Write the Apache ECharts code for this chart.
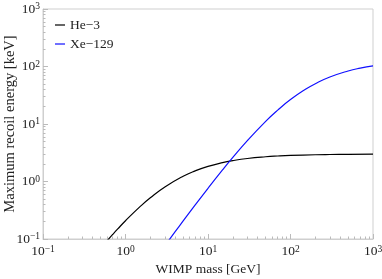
<!DOCTYPE html>
<html><head><meta charset="utf-8">
<script src="https://cdn.jsdelivr.net/npm/echarts@6/dist/echarts.min.js"></script>
<style>html,body{margin:0;padding:0;background:#fff}#c{width:382px;height:279px}</style>
</head><body><div id="c"></div>
<script>
// WIMP mass [GeV]
var heMass = [0.6, 0.7, 0.8, 1, 1.5, 2, 3, 5, 7, 10, 15, 20, 30, 50, 70, 100, 200, 300, 500, 1000];
// Maximum recoil energy [keV], He-3
var heEnergy = [0.0935, 0.120, 0.148, 0.208, 0.365, 0.521, 0.803, 1.234, 1.531, 1.832, 2.132, 2.310, 2.511, 2.692, 2.775, 2.840, 2.919, 2.946, 2.968, 2.985];
var xeMass = [3, 4, 5, 7, 10, 15, 20, 30, 50, 70, 100, 150, 200, 300, 500, 700, 1000];
// Maximum recoil energy [keV], Xe-129
var xeEnergy = [0.0765, 0.1339, 0.2058, 0.3908, 0.761, 1.588, 2.625, 5.146, 11.13, 17.46, 26.58, 39.70, 50.25, 65.63, 83.66, 93.75, 102.5];
var seriesNames = ['He\u22123', 'Xe\u2212129'];
var minorX = [0.2,0.3,0.4,0.5,0.6,0.7,0.8,0.9,2,3,4,5,6,7,8,9,20,30,40,50,60,70,80,90,200,300,400,500,600,700,800,900];
var minorY = minorX.slice();

var font = '"Liberation Serif", "Times New Roman", serif';
function fmt(v){
  var e = Math.round(Math.log10(v));
  var s = e < 0 ? '\u2212' + (-e) : '' + e;
  return '{b|10}{s|' + s + '}';
}
var rich = {
  b: {fontFamily: font, fontSize: 13.5, color: '#222', lineHeight: 15},
  s: {fontFamily: font, fontSize: 9.5, color: '#222', verticalAlign: 'top', lineHeight: 15, padding: [0,0,6,0]}
};
var gray = '#cfcfcf';
var chart = echarts.init(document.getElementById('c'));
chart.setOption({
  animation: false,
  grid: {left: 43, right: 9, top: 9, bottom: 40, show: true, borderColor: gray, borderWidth: 1,
         containLabel: false, outerBoundsMode: 'none'},
  legend: {
    data: seriesNames, left: 50, top: 13, orient: 'vertical', itemGap: 5,
    icon: 'rect', itemWidth: 10, itemHeight: 1.2,
    textStyle: {fontFamily: font, fontSize: 13.5, color: '#222'}
  },
  xAxis: [{
    type: 'log', min: 0.1, max: 1000, logBase: 10,
    name: 'WIMP mass [GeV]', nameLocation: 'middle', nameGap: 23, nameMoveOverlap: false,
    nameTextStyle: {fontFamily: font, fontSize: 13.5, color: '#222'},
    axisLine: {lineStyle: {color: gray}},
    axisTick: {inside: true, length: 5, lineStyle: {color: '#bbb'}},
    axisLabel: {formatter: fmt, rich: rich, margin: 5},
    splitLine: {show: false}
  }, {
    type: 'log', min: 0.1, max: 1000, position: 'bottom',
    axisLine: {show: false}, axisLabel: {show: false}, splitLine: {show: false},
    axisTick: {inside: true, length: 2.5, customValues: minorX, lineStyle: {color: '#bbb'}}
  }],
  yAxis: [{
    type: 'log', min: 0.1, max: 1000, logBase: 10,
    name: 'Maximum recoil energy [keV]', nameLocation: 'middle', nameGap: 25, nameMoveOverlap: false,
    nameTextStyle: {fontFamily: font, fontSize: 14.5, color: '#222'},
    axisLine: {lineStyle: {color: gray}},
    axisTick: {inside: true, length: 5, lineStyle: {color: '#bbb'}},
    axisLabel: {formatter: fmt, rich: rich, margin: 3},
    splitLine: {show: false}
  }, {
    type: 'log', min: 0.1, max: 1000, position: 'left',
    axisLine: {show: false}, axisLabel: {show: false}, splitLine: {show: false},
    axisTick: {inside: true, length: 2.5, customValues: minorY, lineStyle: {color: '#bbb'}}
  }],
  series: [{
    name: seriesNames[0], type: 'line', showSymbol: false, symbol: 'none', smooth: true,
    color: '#000', lineStyle: {color: '#000', width: 1.2},
    data: heMass.map(function(m, i){ return [m, heEnergy[i]]; })
  }, {
    name: seriesNames[1], type: 'line', showSymbol: false, symbol: 'none', smooth: true,
    color: '#1010ff', lineStyle: {color: '#1010ff', width: 1.2},
    data: xeMass.map(function(m, i){ return [m, xeEnergy[i]]; })
  }]
});
</script></body></html>
